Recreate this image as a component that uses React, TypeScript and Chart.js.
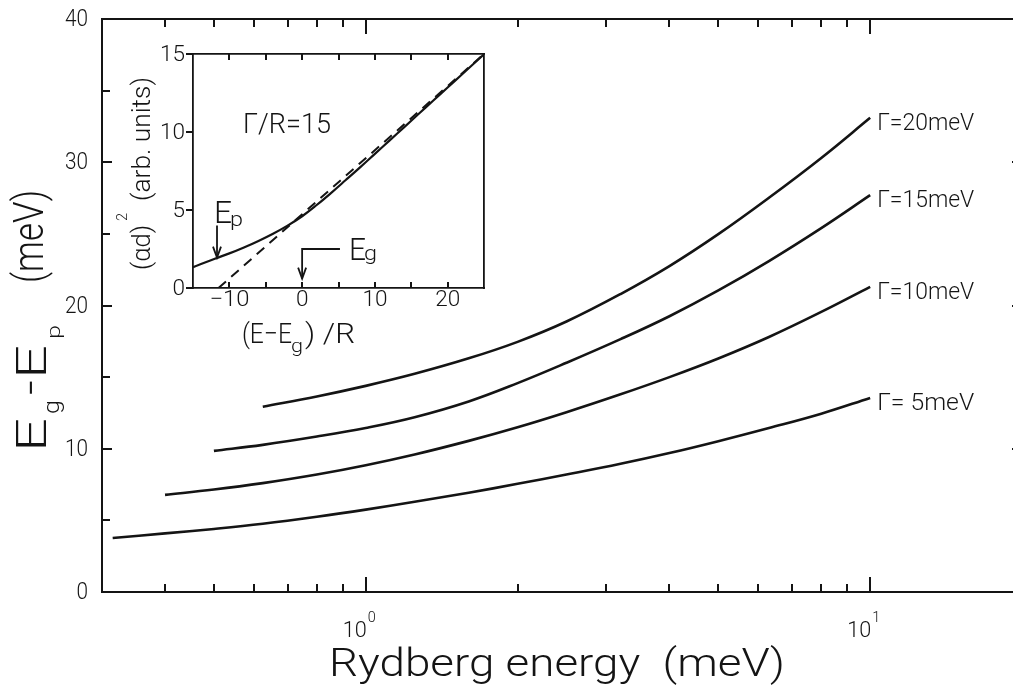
import React, { useEffect, useRef } from "react";
import { Chart, registerables } from "chart.js";

Chart.register(...registerables);

const INK = "#141414";
const FONT = 'Roboto, "DejaVu Sans", sans-serif';
const WEIGHT = "300";

// ---------------- main chart data ----------------
const RYDBERG_G5 = [0.315, 0.4, 0.5, 0.625, 0.8, 1.0, 1.25, 1.6, 2.0, 2.5, 3.2, 4.0, 5.0, 6.3, 8.0, 10];
const SHIFT_G5 = [3.77, 4.09, 4.4, 4.76, 5.25, 5.75, 6.3, 6.93, 7.55, 8.2, 8.95, 9.7, 10.53, 11.45, 12.45, 13.55];
const RYDBERG_G10 = [0.4, 0.5, 0.625, 0.8, 1.0, 1.25, 1.6, 2.0, 2.5, 3.2, 4.0, 5.0, 6.3, 8.0, 10];
const SHIFT_G10 = [6.78, 7.15, 7.6, 8.2, 8.85, 9.6, 10.55, 11.5, 12.55, 13.8, 15.0, 16.3, 17.8, 19.55, 21.3];
const RYDBERG_G15 = [0.5, 0.625, 0.8, 1.0, 1.25, 1.6, 2.0, 2.5, 3.2, 4.0, 5.0, 6.3, 8.0, 10];
const SHIFT_G15 = [9.85, 10.27, 10.85, 11.45, 12.2, 13.3, 14.58, 16.0, 17.65, 19.25, 21.05, 23.1, 25.4, 27.7];
const RYDBERG_G20 = [0.625, 0.8, 1.0, 1.25, 1.6, 2.0, 2.5, 3.2, 4.0, 5.0, 6.3, 8.0, 10];
const SHIFT_G20 = [12.93, 13.65, 14.39, 15.23, 16.31, 17.46, 18.88, 20.8, 22.75, 24.98, 27.52, 30.3, 33.1];
const CURVE_LABELS = ["Γ=20meV", "Γ=15meV", "Γ=10meV", "Γ= 5meV"];

const X_MINOR_TICKS = [0.4, 0.5, 0.6, 0.7, 0.8, 0.9, 2, 3, 4, 5, 6, 7, 8, 9];
const X_MAJOR_TICKS = [1, 10];
const X_EXPONENTS = ["0", "1"];
const Y_TICKS = [0, 5, 10, 15, 20, 25, 30, 35, 40];
const Y_LABELS = [0, 10, 20, 30, 40];

// ---------------- inset data ----------------
const INSET_X = [-15, -12, -10, -8, -6, -4, -2, 0, 2, 4, 6, 8, 10, 12, 14, 16, 18, 20, 22, 25];
const INSET_ABS = [1.33, 1.88, 2.22, 2.6, 3.02, 3.48, 4.0, 4.6, 5.32, 6.1, 6.92, 7.75, 8.6, 9.45, 10.3, 11.15, 12.0, 12.85, 13.7, 14.98];
const INSET_FIT_X = [-11.5, 25];
const INSET_FIT_Y = [0, 15];
const INSET_X_TICKS = [-10, -5, 0, 5, 10, 15, 20];
const INSET_X_LABELS = [-10, 0, 10, 20];
const INSET_Y_TICKS = [0, 5, 10, 15];
const EP_ARROW = { x: -11.7, yFrom: 4.0, yTo: 1.95 };
const EG_ARROW = { xFrom: 5.2, y: 2.5, x: 0, yTo: 0.6 };

type Part = { t: string; size: number; w?: number; sx?: number; dy?: number; at?: number };

function drawParts(
  ctx: CanvasRenderingContext2D,
  parts: Part[],
  x: number,
  y: number,
  align: "left" | "center" | "right" = "left",
  rot = 0,
  baseline: CanvasTextBaseline = "alphabetic"
) {
  ctx.save();
  ctx.translate(x, y);
  if (rot) ctx.rotate(rot);
  ctx.fillStyle = INK;
  ctx.textBaseline = baseline;
  ctx.textAlign = "left";
  const scales: number[] = [];
  const widths = parts.map((p) => {
    ctx.font = `${WEIGHT} ${p.size}px ${FONT}`;
    const m = ctx.measureText(p.t).width;
    const sx = p.w ? p.w / m : p.sx ?? 1;
    scales.push(sx);
    return m * sx;
  });
  let pos = 0;
  const starts = parts.map((p, i) => {
    const s = p.at ?? pos;
    pos = s + widths[i];
    return s;
  });
  const total = pos;
  const shift = align === "center" ? -total / 2 : align === "right" ? -total : 0;
  parts.forEach((p, i) => {
    ctx.save();
    ctx.font = `${WEIGHT} ${p.size}px ${FONT}`;
    ctx.translate(starts[i] + shift, p.dy ?? 0);
    ctx.scale(scales[i], 1);
    ctx.fillText(p.t, 0, 0);
    ctx.restore();
  });
  ctx.restore();
}

// tick marks as filled rectangles (crisp)
function vtick(ctx: CanvasRenderingContext2D, x: number, y0: number, y1: number, w = 2) {
  ctx.fillRect(Math.round(x) - w / 2, Math.min(y0, y1), w, Math.abs(y1 - y0));
}
function htick(ctx: CanvasRenderingContext2D, x0: number, x1: number, y: number, w = 2) {
  ctx.fillRect(Math.min(x0, x1), Math.round(y) - w / 2, Math.abs(x1 - x0), w);
}

function arrowDown(ctx: CanvasRenderingContext2D, x: number, y: number) {
  ctx.beginPath();
  ctx.moveTo(x - 4, y - 11);
  ctx.lineTo(x, y);
  ctx.lineTo(x + 4, y - 11);
  ctx.stroke();
}

const lineDs = (label: string, xs: number[], ys: number[], extra: any = {}) => ({
  label,
  data: xs.map((x, i) => ({ x, y: ys[i] })),
  borderColor: INK,
  borderWidth: 2.6,
  pointRadius: 0,
  fill: false,
  tension: 0.4,
  ...extra,
});

const hiddenAxis = (extra: any) => ({
  ticks: { display: false },
  grid: { display: false },
  border: { display: true, color: INK, width: 2 },
  ...extra,
});

const digitsW = (s: string, per: number, minus: number) =>
  s.split("").reduce((acc, ch) => acc + (ch === "−" ? minus : per), 0);

const mainDecor = {
  id: "mainDecor",
  afterDraw(chart: any) {
    const { ctx, chartArea: a } = chart;
    const xs = chart.scales.x;
    const ys = chart.scales.y;
    ctx.save();
    ctx.fillStyle = INK;
    X_MINOR_TICKS.forEach((v) => {
      const p = xs.getPixelForValue(v);
      vtick(ctx, p, a.bottom, a.bottom - 8);
      vtick(ctx, p, a.top, a.top + 8);
    });
    X_MAJOR_TICKS.forEach((v) => {
      const p = xs.getPixelForValue(v);
      vtick(ctx, p, a.bottom, a.bottom - 15);
      vtick(ctx, p, a.top, a.top + 15);
    });
    Y_TICKS.forEach((v) => {
      const p = ys.getPixelForValue(v);
      const len = v % 10 === 0 ? 10 : 8;
      htick(ctx, a.left, a.left + len, p);
      htick(ctx, a.right, a.right - len, p);
    });
    ctx.restore();

    Y_LABELS.forEach((v) => {
      const s = String(v);
      drawParts(ctx, [{ t: s, size: 24, w: digitsW(s, 11.5, 0) }], a.left - 14, ys.getPixelForValue(v) + 1, "right", 0, "middle");
    });
    X_MAJOR_TICKS.forEach((v, i) => {
      const p = xs.getPixelForValue(v);
      drawParts(ctx, [{ t: "10", size: 22, w: 24 }], p + 1, a.bottom + 45, "right");
      drawParts(ctx, [{ t: X_EXPONENTS[i], size: 15, w: 8 }], p + 2, a.bottom + 30);
    });

    // curve labels at the end of each curve
    const ends = [SHIFT_G20, SHIFT_G15, SHIFT_G10, SHIFT_G5];
    const endX = [RYDBERG_G20, RYDBERG_G15, RYDBERG_G10, RYDBERG_G5];
    CURVE_LABELS.forEach((lab, i) => {
      const xv = endX[i][endX[i].length - 1];
      const yv = ends[i][ends[i].length - 1];
      drawParts(ctx, [{ t: lab, size: 24, w: 97 }], xs.getPixelForValue(xv) + 7, ys.getPixelForValue(yv) + 6, "left", 0, "middle");
    });

    // x title
    drawParts(ctx, [{ t: "Rydberg energy  (meV)", size: 38, w: 456 }], a.left + 455, a.bottom + 84, "center");

    // y title (rotated)
    drawParts(
      ctx,
      [
        { t: "E", size: 42, w: 34, at: 0 },
        { t: "g", size: 22, w: 14, at: 38, dy: 12.5 },
        { t: "−", size: 42, w: 17, at: 56 },
        { t: "E", size: 42, w: 34, at: 73 },
        { t: "p", size: 19, w: 14, at: 113, dy: 13.8 },
        { t: "(meV)", size: 42, w: 93, at: 169, dy: -3 },
      ],
      a.left - 56,
      a.bottom - 140,
      "left",
      -Math.PI / 2
    );
  },
};

const insetDecor = {
  id: "insetDecor",
  afterDraw(chart: any) {
    const { ctx, chartArea: a } = chart;
    const xs = chart.scales.x;
    const ys = chart.scales.y;
    ctx.save();
    ctx.fillStyle = INK;
    ctx.strokeStyle = INK;
    ctx.lineWidth = 1.8;
    INSET_X_TICKS.forEach((v) => {
      const p = xs.getPixelForValue(v);
      vtick(ctx, p, a.bottom, a.bottom - 6);
      vtick(ctx, p, a.top, a.top + 6);
    });
    INSET_Y_TICKS.forEach((v) => {
      const p = ys.getPixelForValue(v);
      htick(ctx, a.left, a.left - 7, p);
    });

    // E_p arrow
    const epx = xs.getPixelForValue(EP_ARROW.x);
    const epTop = ys.getPixelForValue(EP_ARROW.yFrom);
    const epTip = ys.getPixelForValue(EP_ARROW.yTo);
    ctx.beginPath();
    ctx.moveTo(epx, epTop);
    ctx.lineTo(epx, epTip);
    ctx.stroke();
    arrowDown(ctx, epx, epTip);

    // E_g arrow
    const egx0 = xs.getPixelForValue(EG_ARROW.xFrom);
    const egx = xs.getPixelForValue(EG_ARROW.x);
    const egy = ys.getPixelForValue(EG_ARROW.y);
    const egTip = ys.getPixelForValue(EG_ARROW.yTo);
    ctx.beginPath();
    ctx.moveTo(egx0, egy);
    ctx.lineTo(egx, egy);
    ctx.lineTo(egx, egTip);
    ctx.stroke();
    arrowDown(ctx, egx, egTip);
    ctx.restore();

    INSET_Y_TICKS.forEach((v) => {
      const s = String(v);
      drawParts(ctx, [{ t: s, size: 22, w: digitsW(s, 12.5, 15) }], a.left - 8, ys.getPixelForValue(v) + 1, "right", 0, "middle");
    });
    INSET_X_LABELS.forEach((v) => {
      const s = v < 0 ? "−" + String(-v) : String(v);
      drawParts(ctx, [{ t: s, size: 22, w: digitsW(s, 12.5, 15) }], xs.getPixelForValue(v), a.bottom + 18, "center");
    });

    drawParts(ctx, [{ t: "Γ/R=15", size: 28, w: 88 }], a.left + 50, a.top + 79);

    drawParts(
      ctx,
      [
        { t: "E", size: 32, w: 18, at: 0 },
        { t: "p", size: 21, w: 13, at: 16, dy: 3 },
      ],
      epx - 3,
      epTop - 3
    );
    drawParts(
      ctx,
      [
        { t: "E", size: 31, w: 17, at: 0 },
        { t: "g", size: 21, w: 13, at: 15, dy: 0 },
      ],
      egx0 + 9,
      egy + 11
    );

    // x title
    drawParts(
      ctx,
      [
        { t: "(E−E", size: 28, w: 50, at: 0 },
        { t: "g", size: 18, w: 12, at: 49, dy: 9 },
        { t: ") /R", size: 28, w: 50, at: 63 },
      ],
      a.left + 49,
      a.bottom + 55
    );

    // y title
    drawParts(
      ctx,
      [
        { t: "(αd)", size: 26, w: 45, at: 0 },
        { t: "2", size: 15, w: 8, at: 49, dy: -23 },
        { t: "(arb. units)", size: 26, w: 124, at: 69 },
      ],
      a.left - 43,
      a.bottom - 18,
      "left",
      -Math.PI / 2
    );
  },
};

export default function App() {
  const mainRef = useRef<HTMLCanvasElement>(null);
  const insetRef = useRef<HTMLCanvasElement>(null);

  useEffect(() => {
    const main = new Chart(mainRef.current as HTMLCanvasElement, {
      type: "line",
      data: {
        datasets: [
          lineDs("Γ=20meV", RYDBERG_G20, SHIFT_G20),
          lineDs("Γ=15meV", RYDBERG_G15, SHIFT_G15),
          lineDs("Γ=10meV", RYDBERG_G10, SHIFT_G10),
          lineDs("Γ=5meV", RYDBERG_G5, SHIFT_G5),
        ] as any,
      },
      options: {
        responsive: false,
        animation: false,
        devicePixelRatio: 1,
        events: [],
        layout: { padding: 0 },
        plugins: { legend: { display: false }, tooltip: { enabled: false } },
        scales: {
          x: hiddenAxis({ type: "logarithmic", position: "bottom", min: 0.3, max: 20, afterFit: (s: any) => { s.height = 94; } }),
          x2: hiddenAxis({ type: "logarithmic", position: "top", min: 0.3, max: 20, afterFit: (s: any) => { s.height = 19; } }),
          y: hiddenAxis({ type: "linear", position: "left", min: 0, max: 40, afterFit: (s: any) => { s.width = 102; } }),
          y2: hiddenAxis({ type: "linear", position: "right", min: 0, max: 40, afterFit: (s: any) => { s.width = 18; } }),
        },
      } as any,
      plugins: [mainDecor],
    });

    const insetBorder = { display: true, color: INK, width: 1.8 };
    const inset = new Chart(insetRef.current as HTMLCanvasElement, {
      type: "line",
      data: {
        datasets: [
          lineDs("absorption", INSET_X, INSET_ABS, { borderWidth: 2.2 }),
          lineDs("fit", INSET_FIT_X, INSET_FIT_Y, { borderWidth: 2, borderDash: [10, 7], tension: 0 }),
        ] as any,
      },
      options: {
        responsive: false,
        animation: false,
        devicePixelRatio: 1,
        events: [],
        layout: { padding: 0 },
        plugins: { legend: { display: false }, tooltip: { enabled: false } },
        scales: {
          x: hiddenAxis({ type: "linear", position: "bottom", min: -15, max: 25, border: insetBorder, afterFit: (s: any) => { s.height = 72; } }),
          x2: hiddenAxis({ type: "linear", position: "top", min: -15, max: 25, border: insetBorder, afterFit: (s: any) => { s.height = 14; } }),
          y: hiddenAxis({ type: "linear", position: "left", min: 0, max: 15, border: insetBorder, afterFit: (s: any) => { s.width = 81; } }),
          y2: hiddenAxis({ type: "linear", position: "right", min: 0, max: 15, border: insetBorder, afterFit: (s: any) => { s.width = 8; } }),
        },
      } as any,
      plugins: [insetDecor],
    });

    return () => {
      main.destroy();
      inset.destroy();
    };
  }, []);

  return (
    <div
      style={{
        position: "absolute",
        left: 0,
        top: 0,
        width: 1013,
        height: 686,
        overflow: "hidden",
        background: "#ffffff",
      }}
    >
      <canvas
        ref={mainRef}
        width={1040}
        height={686}
        style={{ position: "absolute", left: 0, top: 0, width: 1040, height: 686 }}
      />
      <canvas
        ref={insetRef}
        width={380}
        height={320}
        style={{ position: "absolute", left: 112, top: 40, width: 380, height: 320 }}
      />
    </div>
  );
}
